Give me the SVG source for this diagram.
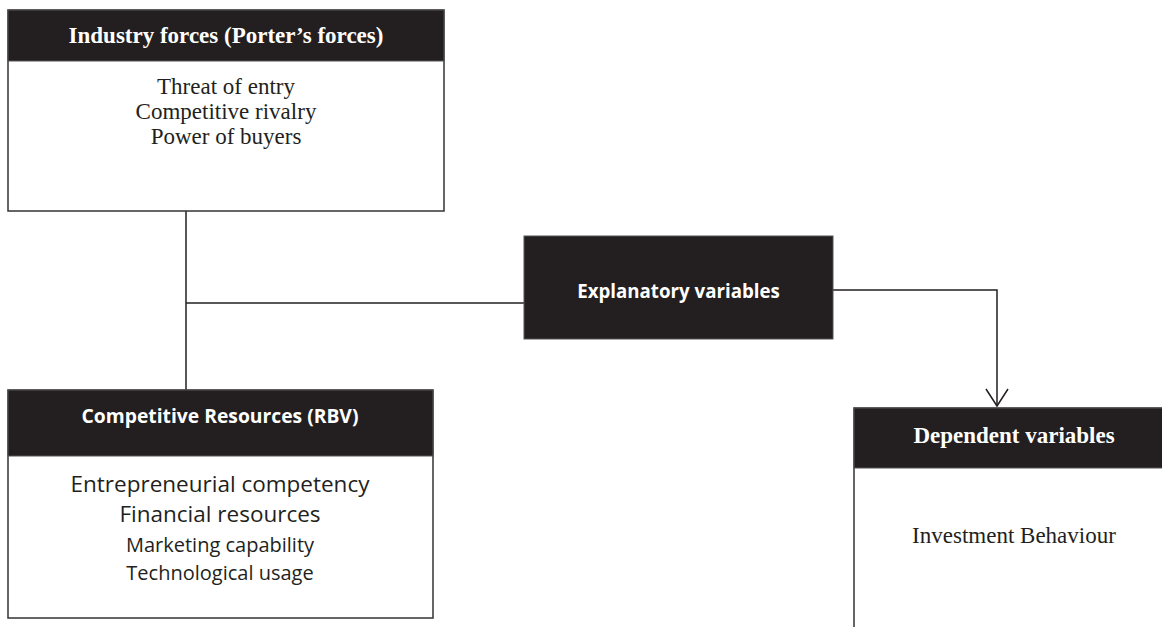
<svg xmlns="http://www.w3.org/2000/svg" width="1162" height="627" viewBox="0 0 1162 627">
<style>
.hdr{fill:#231f20;stroke:#555;stroke-width:1}
.box{fill:#fff;stroke:#333;stroke-width:1.5}
.ln{fill:none;stroke:#231f20;stroke-width:1.5}
.tb{font-family:"Liberation Serif",serif;font-weight:bold;font-size:23px;fill:#fff;text-anchor:middle}
.tr{font-family:"Liberation Serif",serif;font-size:23px;fill:#231f20;text-anchor:middle}
.cb{font-family:"Open Sans",Lato,sans-serif;font-weight:bold;font-size:19.3px;fill:#fff;text-anchor:middle}
.cr{font-family:"Open Sans",Lato,sans-serif;font-size:22.5px;fill:#231f20;text-anchor:middle}
.cs{font-family:"Open Sans",Lato,sans-serif;font-size:20px;fill:#231f20;text-anchor:middle}
</style>
<g id="connectors">
<path class="ln" d="M186,211 V390"/>
<path class="ln" d="M186,303 H524"/>
<path class="ln" d="M833,290 H997 V406"/>
<path d="M986,389 L997,406 L1008,389" fill="none" stroke="#231f20" stroke-width="1.5"/>
</g>
<g id="industry-forces">
<rect class="box" x="8" y="10" width="436" height="201"/>
<rect class="hdr" x="8" y="10" width="436" height="51"/>
<text class="tb" x="226" y="43">Industry forces (Porter’s forces)</text>
<text class="tr" x="226" y="94">Threat of entry</text>
<text class="tr" x="226" y="119">Competitive rivalry</text>
<text class="tr" x="226" y="144">Power of buyers</text>
</g>
<g id="competitive-resources">
<rect class="box" x="8" y="390" width="425" height="228"/>
<rect class="hdr" x="8" y="390" width="425" height="66"/>
<text class="cb" x="220" y="423">Competitive Resources (RBV)</text>
<text class="cr" x="220" y="492">Entrepreneurial competency</text>
<text class="cr" x="220" y="522">Financial resources</text>
<text class="cs" x="220" y="552">Marketing capability</text>
<text class="cs" x="220" y="580">Technological usage</text>
</g>
<g id="explanatory-variables">
<rect class="hdr" x="524" y="236" width="309" height="103"/>
<text class="cb" x="678.5" y="298" style="font-size:18.7px">Explanatory variables</text>
</g>
<g id="dependent-variables">
<rect class="box" x="854" y="408" width="330" height="240"/>
<rect class="hdr" x="854" y="408" width="330" height="60"/>
<text class="tb" x="1014" y="443">Dependent variables</text>
<text class="tr" x="1014" y="543">Investment Behaviour</text>
</g>
</svg>
